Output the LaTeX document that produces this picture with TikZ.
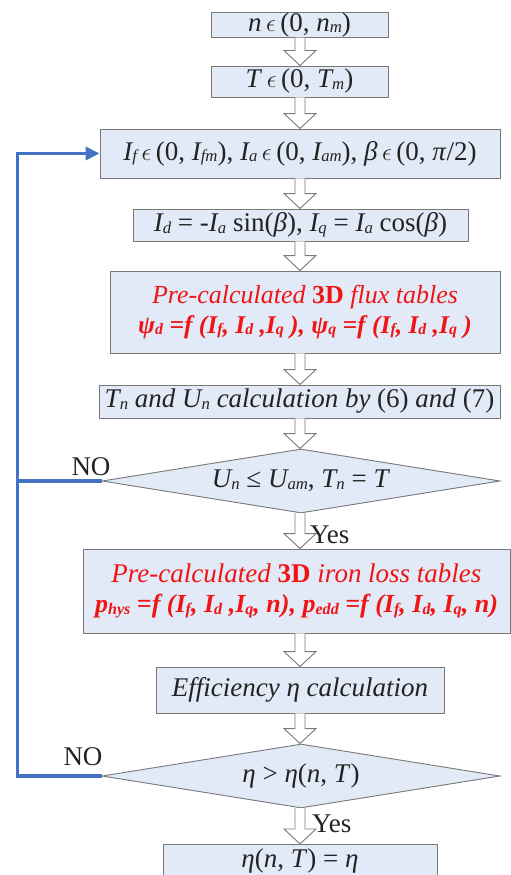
\documentclass[tikz,border=0pt]{standalone}
\usepackage{fontspec}
\setmainfont{Liberation Serif}
\usetikzlibrary{shapes.geometric,arrows.meta,calc}
\definecolor{boxfill}{RGB}{225,234,246}
\definecolor{boxline}{RGB}{120,120,120}
\definecolor{loopblue}{RGB}{68,114,196}
\definecolor{redtxt}{RGB}{240,20,20}
\definecolor{txt}{RGB}{35,35,35}
\newcommand\sbs[1]{\raisebox{-0.12ex}{\scalebox{0.62}{#1}}}
\newcommand\inn{\,\ensuremath{\epsilon}\,}
\newcommand\harrow[2]{%
  \draw[hollow] let \p1=(#1.south), \p2=(#2.north) in
    (300-5,\y1) -- (300-5,\y2+15pt) -- (300-16,\y2+15pt) -- (300,\y2)
    -- (300+16,\y2+15pt) -- (300+5,\y2+15pt) -- (300+5,\y1);}
\begin{document}
\begin{tikzpicture}[x=1pt,y=-1pt,
  stepbox/.style={draw=boxline, fill=boxfill, line width=0.9pt, inner sep=0pt,
    text=txt, font=\fontsize{27}{30}\selectfont},
  redbox/.style={stepbox, align=center, text=redtxt},
  decision/.style={diamond, draw=boxline, fill=boxfill, line width=0.9pt, inner sep=0pt,
    text=txt, aspect=6.2, minimum width=398pt, minimum height=64pt, font=\fontsize{27}{30}\selectfont},
  hollow/.style={draw=boxline, fill=white, line width=0.9pt, line join=miter},
  loopline/.style={draw=loopblue, line width=3.5pt, line join=miter},
  lbl/.style={text=txt, font=\fontsize{27}{30}\selectfont, inner sep=0pt}]
\useasboundingbox (0,0) rectangle (511,875);
\clip (0,0) rectangle (511,875);

\node[stepbox, minimum width=177pt, minimum height=24pt] (b1) at (299.5,25)
  {\textit{n}\inn(0, \textit{n\sbs{m}})};
\node[stepbox, minimum width=177pt, minimum height=31pt] (b2) at (299.5,81.5)
  {\textit{T}\inn(0, \textit{T\sbs{m}})};
\node[stepbox, minimum width=400pt, minimum height=49pt] (b3) at (300,153.5)
  {\textit{I\sbs{f}}\inn(0, \textit{I\sbs{fm}}), \textit{I\sbs{a}}\inn(0, \textit{I\sbs{am}}), \textit{β}\inn(0, \textit{π}/2)};
\node[stepbox, minimum width=335pt, minimum height=32pt] (b4) at (300.5,225)
  {\textit{I\sbs{d}} = -\textit{I\sbs{a}} sin(\textit{β}), \textit{I\sbs{q}} = \textit{I\sbs{a}} cos(\textit{β})};
\node[redbox, minimum width=390pt, minimum height=82pt] (b5) at (305,312)
  {\fontsize{26}{29}\selectfont\textit{Pre-calculated} \textbf{3D} \textit{flux tables}\\
   \fontsize{25.5}{29}\selectfont\textbf{\textit{ψ\sbs{d} =f (I\sbs{f}, I\sbs{d} ,I\sbs{q} ), ψ\sbs{q} =f (I\sbs{f}, I\sbs{d} ,I\sbs{q} )}}};
\node[stepbox, minimum width=401pt, minimum height=33pt] (b6) at (299.5,401.5)
  {\textit{T\sbs{n} and U\sbs{n} calculation by} (6) \textit{and} (7)};
\node[decision] (d1) at (301,481)
  {\textit{U\sbs{n}} ≤ \textit{U\sbs{am}}, \textit{T\sbs{n}} = \textit{T}};
\node[redbox, minimum width=427pt, minimum height=84pt] (b7) at (296.5,591)
  {\fontsize{27}{34}\selectfont\textit{Pre-calculated} \textbf{3D} \textit{iron loss tables}\\
   \fontsize{26}{34}\selectfont\textbf{\textit{p\sbs{hys} =f (I\sbs{f}, I\sbs{d} ,I\sbs{q}, n), p\sbs{edd} =f (I\sbs{f}, I\sbs{d}, I\sbs{q}, n)}}};
\node[stepbox, minimum width=288pt, minimum height=46pt] (b8) at (300,690)
  {\textit{Efficiency η calculation}};
\node[decision] (d2) at (301,776)
  {\textit{η} > \textit{η}(\textit{n}, \textit{T})};
\node[stepbox, minimum width=274pt, minimum height=46pt, anchor=north] (b9) at (300,844) {};
\node[text=txt, font=\fontsize{27}{30}\selectfont, inner sep=0pt] (t9) at (300,861)
  {\textit{η}(\textit{n}, \textit{T}) = \textit{η}};

\harrow{b1}{b2}
\harrow{b2}{b3}
\harrow{b3}{b4}
\harrow{b4}{b5}
\harrow{b5}{b6}
\harrow{b6}{d1}
\harrow{d1}{b7}
\harrow{b7}{b8}
\harrow{b8}{d2}
\harrow{d2}{b9}

\node[lbl, anchor=west] (y1) at (310,535) {Yes};
\node[lbl, anchor=west] (y2) at (312,824) {Yes};
\node[lbl] (no1) at (91,467) {NO};
\node[lbl] (no2) at (83,757) {NO};

\coordinate (lx) at (17.5,0);
\draw[loopline] (d1.west) -- (d1.west -| lx);
\draw[loopline, -{Triangle[length=14pt,width=13pt]}] (d2.west) -- (d2.west -| lx) |- (b3.west);
\end{tikzpicture}
\end{document}
